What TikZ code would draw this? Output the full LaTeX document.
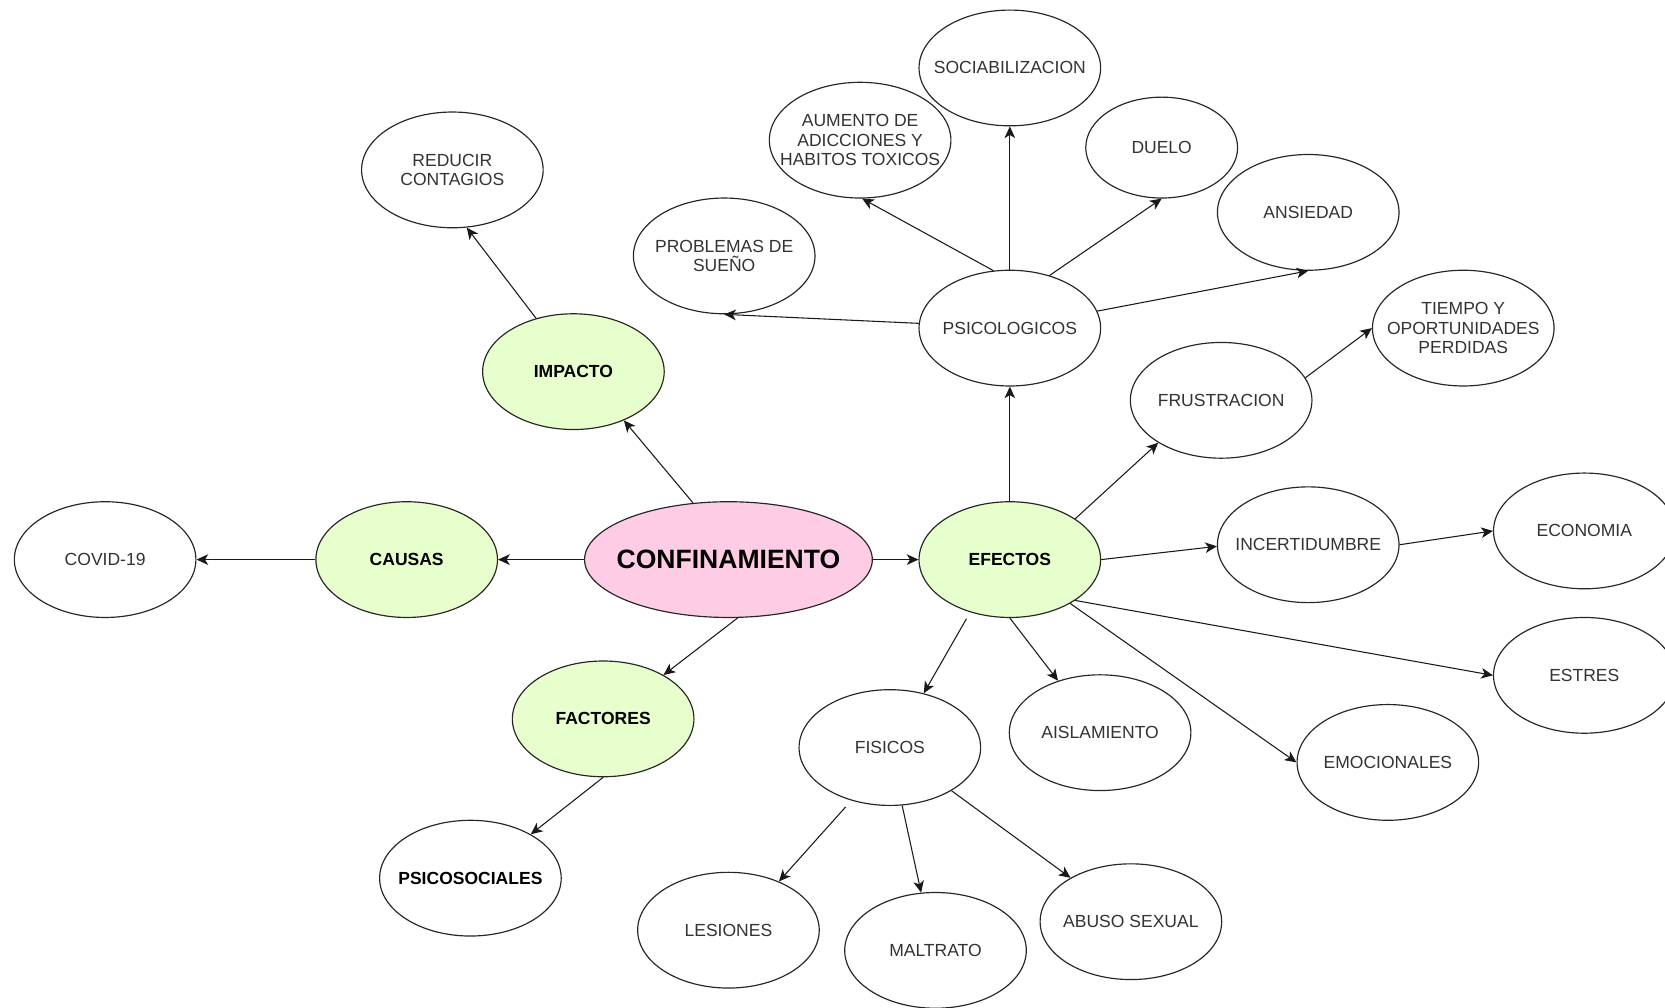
\documentclass[tikz,border=0pt]{standalone}
\usepackage{fontspec}
\setmainfont{Liberation Sans}
\usetikzlibrary{shapes.geometric,arrows.meta}
\definecolor{pinkfill}{HTML}{FFCCE6}
\definecolor{greenfill}{HTML}{E6FFCC}
\definecolor{txt}{HTML}{333333}
\tikzset{
  ell/.style={ellipse, draw=black!85, line width=1.1pt, fill=white,
    minimum width=171pt, minimum height=109pt, inner xsep=-50pt, inner ysep=0pt,
    align=center, text=txt,
    font=\fontsize{16.5pt}{18.3pt}\selectfont},
  small/.style={minimum width=143pt, minimum height=95pt},
  boldtxt/.style={text=black, font=\fontsize{16.5pt}{18.3pt}\selectfont\bfseries},
  green/.style={fill=greenfill, boldtxt},
  main/.style={fill=pinkfill, text=black, minimum width=271pt,
    font=\fontsize{25pt}{28pt}\selectfont\bfseries},
  arr/.style={line width=1pt, black!90, -{Stealth[length=11pt,width=10pt,inset=3pt]}}
}
\begin{document}
\begin{tikzpicture}[x=1pt,y=-1pt]
\useasboundingbox (0,0) rectangle (1568,949);
% nodes
\node[ell,main]  (conf)   at (686,527) {CONFINAMIENTO};
\node[ell,green] (efec)   at (951,527) {EFECTOS};
\node[ell,green] (caus)   at (383,527) {CAUSAS};
\node[ell]       (covid)  at (99,527)  {COVID-19};
\node[ell,green] (imp)    at (540,350) {IMPACTO};
\node[ell]       (red)    at (426,160) {REDUCIR\\CONTAGIOS};
\node[ell,green] (fact)   at (568,677) {FACTORES};
\node[ell,boldtxt] (psoc) at (443,827) {PSICOSOCIALES};
\node[ell]       (psic)   at (951,309) {PSICOLOGICOS};
\node[ell]       (prob)   at (682,241) {PROBLEMAS DE\\SUEÑO};
\node[ell]       (aum)    at (810,132) {AUMENTO DE\\ADICCIONES Y\\HABITOS TOXICOS};
\node[ell]       (soc)    at (951,64)  {SOCIABILIZACION};
\node[ell,small] (duelo)  at (1094,139) {DUELO};
\node[ell]       (ans)    at (1232,200) {ANSIEDAD};
\node[ell]       (tiempo) at (1378,309) {TIEMPO Y\\OPORTUNIDADES\\PERDIDAS};
\node[ell]       (frus)   at (1150,377) {FRUSTRACION};
\node[ell]       (inc)    at (1232,513) {INCERTIDUMBRE};
\node[ell]       (eco)    at (1492,500) {ECONOMIA};
\node[ell]       (estres) at (1492,636) {ESTRES};
\node[ell]       (emo)    at (1307,718) {EMOCIONALES};
\node[ell]       (ais)    at (1036,690) {AISLAMIENTO};
\node[ell]       (fis)    at (838,704) {FISICOS};
\node[ell]       (les)    at (686,876) {LESIONES};
\node[ell]       (mal)    at (881,895) {MALTRATO};
\node[ell]       (abu)    at (1065,868) {ABUSO SEXUAL};
% connectors
\draw[arr] (conf.122) -- (imp.-44);
\draw[arr] (imp.125) -- (red.-76);
\draw[arr] (conf.west) -- (caus.east);
\draw[arr] (caus.west) -- (covid.east);
\draw[arr] (conf.-81) -- (fact.36);
\draw[arr] (fact.south) -- (psoc.36);
\draw[arr] (conf.east) -- (efec.west);
\draw[arr] (efec.north) -- (psic.south);
\draw[arr] (psic.177) -- (prob.south);
\draw[arr] (psic.106) -- (aum.-88);
\draw[arr] (psic.north) -- (soc.south);
\draw[arr] (psic.53) -- (duelo.south);
\draw[arr] (psic.11) -- (ans.south);
\draw[arr] (efec.32) -- (frus.-146);
\draw[arr] (frus.15) -- (tiempo.west);
\draw[arr] (efec.east) -- (inc.-179);
\draw[arr] (inc.east) -- (eco.west);
\draw[arr] (efec.-32) -- (estres.west);
\draw[arr] (efec.-36) -- (emo.west);
\draw[arr] (efec.south) -- (ais.129);
\draw[arr, shorten <=7pt] (efec.-127) -- (fis.58);
\draw[arr, shorten <=8pt] (fis.-126) -- (les.44);
\draw[arr] (fis.-78) -- (mal.104);
\draw[arr] (fis.-35) -- (abu.144);
\end{tikzpicture}
\end{document}
